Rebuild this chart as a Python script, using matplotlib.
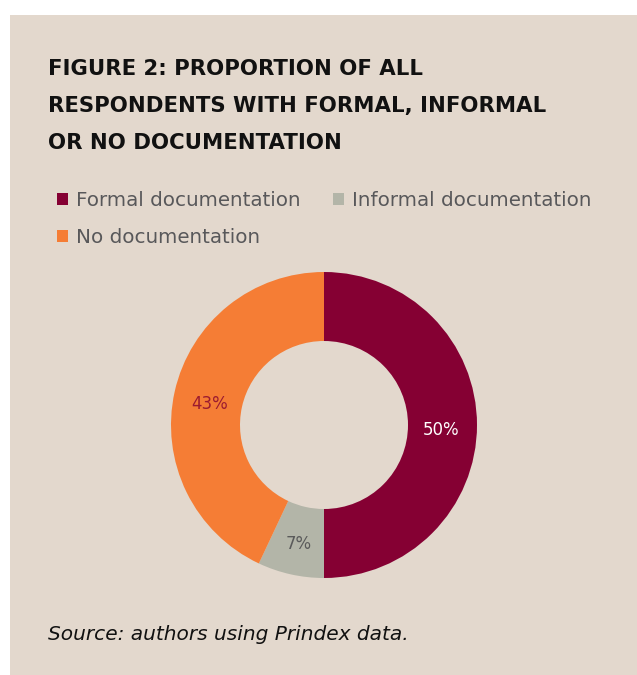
import matplotlib
matplotlib.use("Agg")
import matplotlib.pyplot as plt
from matplotlib.patches import Patch, Rectangle

categories = ["Formal documentation", "Informal documentation", "No documentation"]
values = [50, 7, 43]
colors = ["#850033", "#B3B5A8", "#F57D35"]
label_colors = ["#FFFFFF", "#5A5A5A", "#9B1B30"]

title = "FIGURE 2: PROPORTION OF ALL\nRESPONDENTS WITH FORMAL, INFORMAL\nOR NO DOCUMENTATION"
source = "Source: authors using Prindex data."

W, H = 637, 675
fig = plt.figure(figsize=(W / 100, H / 100), dpi=100)
fig.patch.set_facecolor("white")
bg = "#E3D8CD"
fig.patches.append(Rectangle((10 / W, 0), 1 - 10 / W, 1 - 15 / H, transform=fig.transFigure,
                             facecolor=bg, edgecolor="none", zorder=-10))

fig.text(48 / W, 1 - 59 / H, title, fontsize=15.3, fontweight="bold", family="DejaVu Sans",
         color="#111111", va="top", ha="left", linespacing=2.05)

# donut
cx, cy, r = 324, 425, 153
ax = fig.add_axes([(cx - r) / W, 1 - (cy + r) / H, 2 * r / W, 2 * r / H])
ax.set_facecolor("none")
wedges, texts, autotexts = ax.pie(values, colors=colors, startangle=90, counterclock=False,
                                  radius=1, wedgeprops=dict(width=1 - 84 / 153, edgecolor="none"),
                                  autopct=lambda p: f"{p:.0f}%", pctdistance=0.765,
                                  textprops=dict(fontsize=12, family="DejaVu Sans"))
for t, c in zip(autotexts, label_colors):
    t.set_color(c)
    x, y = t.get_position()
    t.set_position((x, y - 0.03))
ax.set_xlim(-1, 1)
ax.set_ylim(-1, 1)
ax.set_aspect("equal")
ax.axis("off")

order = [0, 2, 1]
handles = [Patch(facecolor=colors[i], edgecolor="none") for i in order]
labels = [categories[i] for i in order]
fig.legend(handles, labels, loc="upper left", bbox_to_anchor=(57 / W, 1 - 191 / H), ncol=2,
           frameon=False, prop=dict(family="DejaVu Sans", size=14.3), labelcolor="#58585A",
           handlelength=0.55, handleheight=0.55, handletextpad=0.4, columnspacing=1.62,
           labelspacing=0.9, borderaxespad=0, borderpad=0)

fig.text(48 / W, 1 - 635 / H, source, fontsize=14.5, style="italic", family="DejaVu Sans",
         color="#111111", va="center", ha="left")

fig.savefig("out.png", dpi=100, facecolor=fig.get_facecolor())
